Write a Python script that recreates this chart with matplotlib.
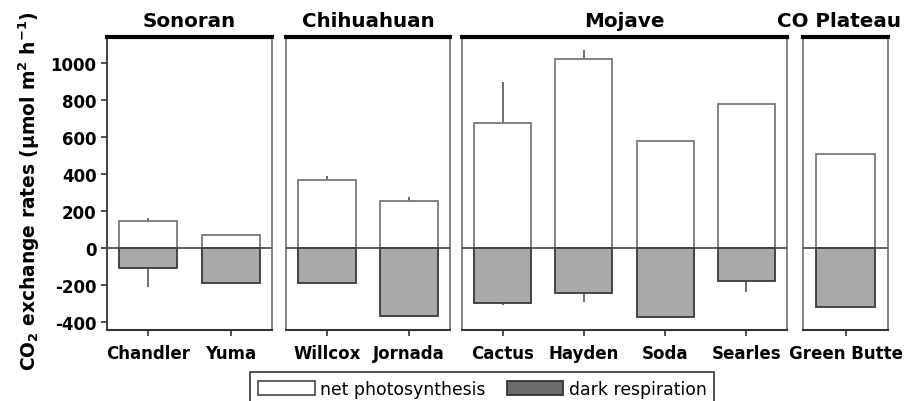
import matplotlib
matplotlib.use("Agg")
import matplotlib.pyplot as plt
from matplotlib.patches import Patch

plt.rcParams['font.family'] = ['DejaVu Sans']
plt.rcParams['mathtext.fontset'] = 'dejavusans'

deserts = ["Sonoran", "Chihuahuan", "Mojave", "CO Plateau"]
sites = [["Chandler", "Yuma"], ["Willcox", "Jornada"],
         ["Cactus", "Hayden", "Soda", "Searles"], ["Green Butte"]]
net_photo = [[148, 70], [369, 256], [674, 1020, 580, 778], [506]]
net_err = [[14, 0], [22, 18], [222, 52, 0, 0], [0]]
dark_resp = [[-110, -191], [-191, -366], [-297, -241, -375, -177], [-321]]
resp_err = [[102, 0], [0, 0], [11, 49, 0, 63], [0]]
yticks = [-400, -200, 0, 200, 400, 600, 800, 1000]

W, H = 905, 402
fig = plt.figure(figsize=(W / 100, H / 100), dpi=100)
panels_px = [(107, 165), (286, 164), (462, 325), (803, 85)]
bottom_px, top_px = 331, 38

edge_gray = "#7a7a7a"
for i, (x0, w) in enumerate(panels_px):
    ax = fig.add_axes([x0 / W, (H - bottom_px) / H, w / W, (bottom_px - top_px) / H])
    n = len(sites[i])
    xs = list(range(n))
    ax.bar(xs, net_photo[i], width=0.7, color="white", edgecolor=edge_gray, linewidth=1.3, zorder=2)
    ax.bar(xs, dark_resp[i], width=0.7, color="#a9a9a9", edgecolor="#3a3a3a", linewidth=1.3, zorder=2)
    for x, v, e in zip(xs, net_photo[i], net_err[i]):
        if e > 0:
            ax.errorbar([x], [v], yerr=[[0], [e]], fmt="none", ecolor="#555555", elinewidth=1.2, capsize=0, zorder=1)
    for x, v, e in zip(xs, dark_resp[i], resp_err[i]):
        if e > 0:
            ax.errorbar([x], [v], yerr=[[e], [0]], fmt="none", ecolor="#555555", elinewidth=1.2, capsize=0, zorder=1)
    ax.axhline(0, color="#444444", linewidth=1.2, zorder=3)
    ax.set_xlim(-0.5, n - 0.5)
    ax.set_ylim(-443, 1140)
    ax.set_xticks(xs)
    ax.set_xticklabels(sites[i], fontsize=12, fontweight="bold")
    ax.tick_params(axis="x", length=4, width=1.2, color="#333333", pad=6)
    for s in ["left", "right"]:
        ax.spines[s].set_color(edge_gray)
        ax.spines[s].set_linewidth(1.3)
    ax.spines["bottom"].set_color("#333333")
    ax.spines["bottom"].set_linewidth(1.5)
    ax.spines["top"].set_color("black")
    ax.spines["top"].set_linewidth(3)
    if i == 3:
        ax.set_title(deserts[i], fontsize=14.3, fontweight="bold", pad=8,
                     x=(901 - x0) / w, ha="right")
    else:
        ax.set_title(deserts[i], fontsize=14.3, fontweight="bold", pad=8)
    if i == 0:
        ax.set_yticks(yticks)
        ax.set_yticklabels([str(t) for t in yticks], fontsize=12, fontweight="bold")
        ax.tick_params(axis="y", length=4, width=1.2, color="#333333")
        ax.spines["left"].set_color("#333333")
        ax.set_ylabel(r"CO$_\mathbf{2}$ exchange rates (µmol m$^\mathbf{2}$ h$^\mathbf{-1}$)",
                      fontsize=13.4, fontweight="bold")
        ax.yaxis.set_label_coords((42 - x0) / w, (bottom_px - 191) / (bottom_px - top_px))
    else:
        ax.set_yticks([])

handles = [Patch(facecolor="white", edgecolor="#555555", linewidth=1.3, label="net photosynthesis"),
           Patch(facecolor="#6a6a6a", edgecolor="#333333", linewidth=1.3, label="dark respiration")]
leg = fig.legend(handles=handles, loc="upper left", bbox_to_anchor=(250 / W, (H - 373) / H),
                 ncol=2, fontsize=12.4, frameon=True, fancybox=False, borderpad=0.45,
                 handlelength=3.3, handleheight=0.9, handletextpad=0.3, columnspacing=1.25,
                 borderaxespad=0)
leg.get_frame().set_edgecolor("black")
leg.get_frame().set_linewidth(1.2)

fig.savefig("out.png", dpi=100)
